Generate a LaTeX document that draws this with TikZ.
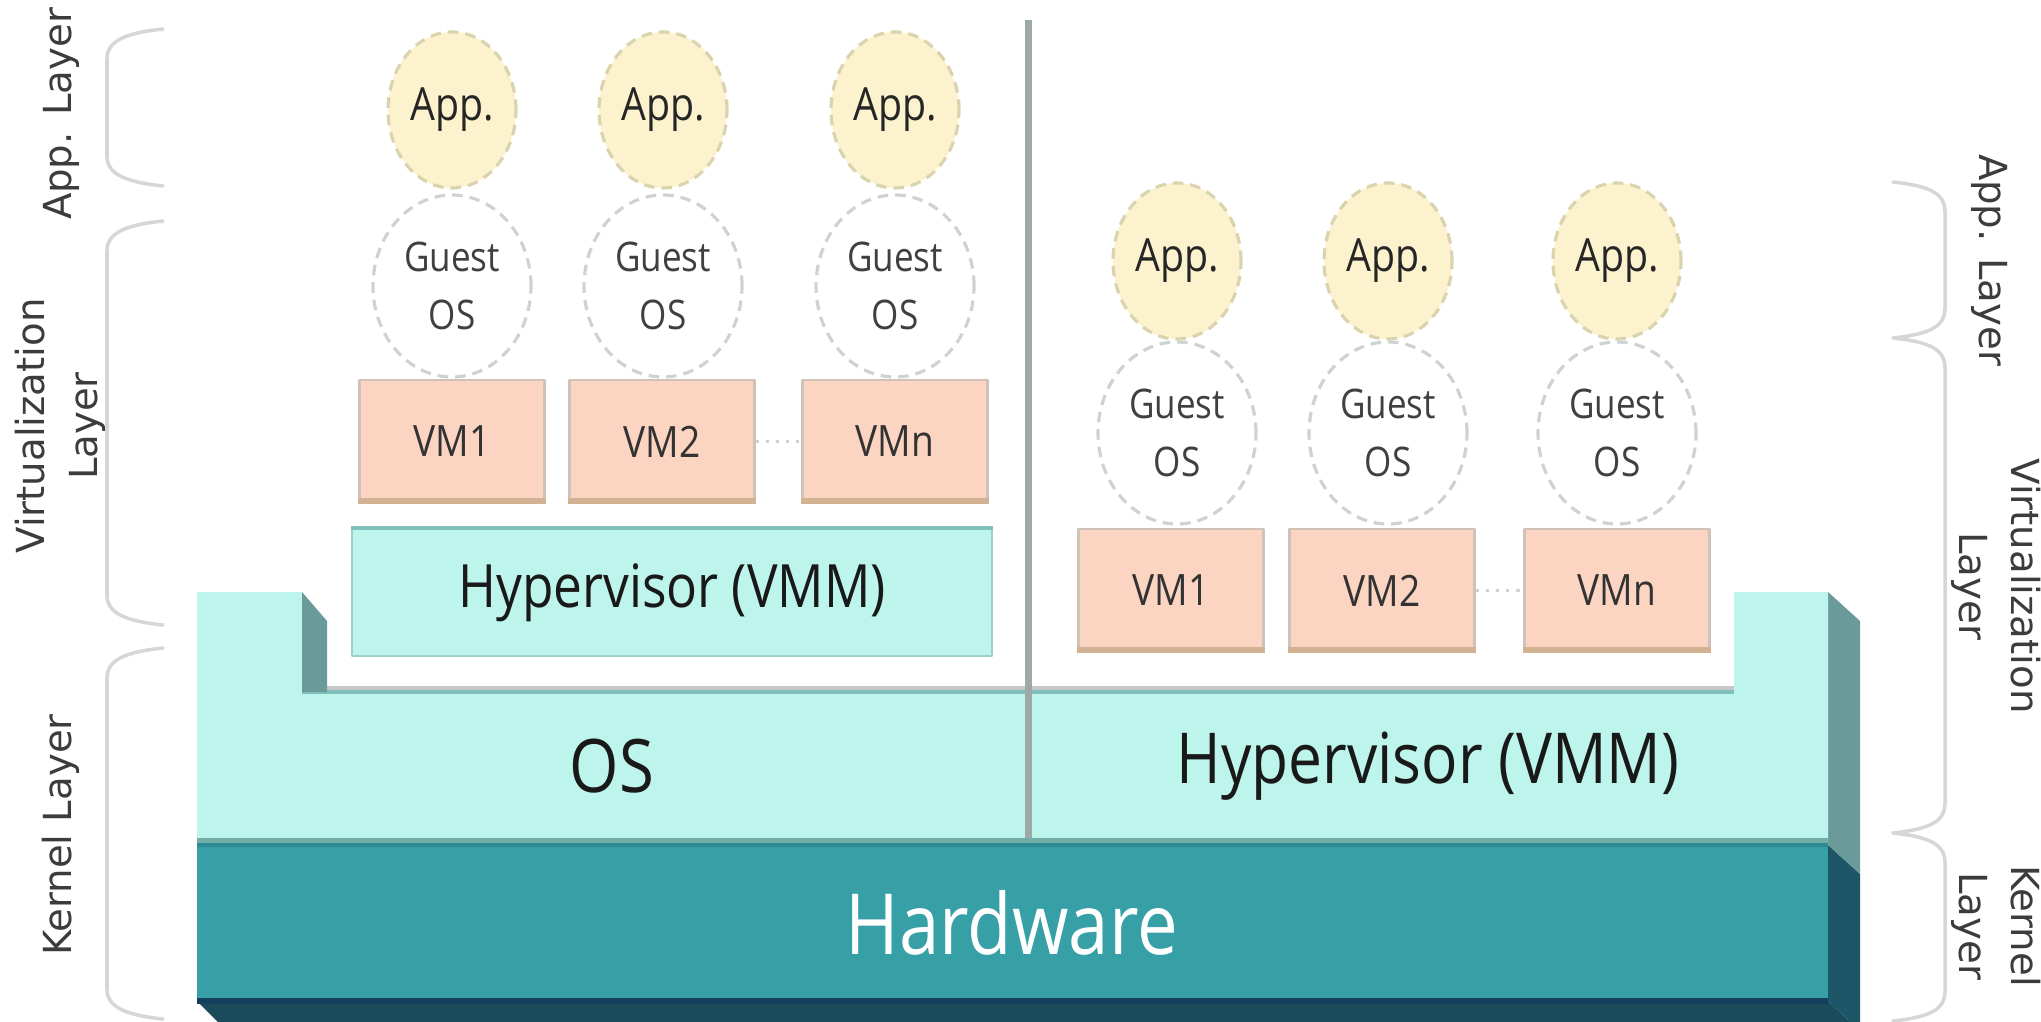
\documentclass[tikz,border=0pt]{standalone}
\usepackage{fontspec}
\setmainfont{Open Sans}[FakeStretch=0.86]
\newfontfamily\labelfont{DejaVu Sans}
\usetikzlibrary{shapes.geometric}
\definecolor{appfill}{HTML}{FCF2CD}
\definecolor{appline}{HTML}{D9D4AE}
\definecolor{osline}{HTML}{CDD3D3}
\definecolor{vmfill}{HTML}{FBD5C1}
\definecolor{vmline}{HTML}{CFC2B8}
\definecolor{vmfoot}{HTML}{D2B292}
\definecolor{hypfill}{HTML}{BDF5EC}
\definecolor{hypedge}{HTML}{7FC0BA}
\definecolor{prongside}{HTML}{6B9A9B}
\definecolor{hwfill}{HTML}{36A0A6}
\definecolor{hwline}{HTML}{2D8C93}
\definecolor{hwside}{HTML}{1D5666}
\definecolor{hwbottom}{HTML}{1A4B5A}
\definecolor{hwdark}{HTML}{143F5E}
\definecolor{divline}{HTML}{9DA8A8}
\definecolor{brkline}{HTML}{D6D6D6}
\definecolor{lbltext}{HTML}{3C3C3C}
\newcommand{\leftbrk}[2]{\draw[brk] (1.63,#1) .. controls (1.25,#1-0.04) and (1.07,#1-0.12) .. (1.07,#1-0.3) -- (1.07,#2+0.3) .. controls (1.07,#2+0.12) and (1.25,#2+0.04) .. (1.63,#2);}
\newcommand{\rightbrk}[2]{\draw[brk] (18.93,#1) .. controls (19.31,#1-0.04) and (19.45,#1-0.12) .. (19.45,#1-0.3) -- (19.45,#2+0.3) .. controls (19.45,#2+0.12) and (19.31,#2+0.04) .. (18.93,#2);}
\begin{document}
\begin{tikzpicture}[line join=round,
	app/.style={ellipse,draw=appline,fill=appfill,line width=0.9pt,densely dashed,minimum width=1.28cm,minimum height=1.56cm,inner sep=0pt,font=\fontsize{13}{15}\selectfont,text=black!85},
	guest/.style={ellipse,draw=osline,fill=white,line width=0.9pt,densely dashed,minimum width=1.58cm,minimum height=1.82cm,inner sep=0pt,align=center,font=\fontsize{11.6}{16.5}\selectfont,text=black!75},
	vm/.style={rectangle,draw=vmline,fill=vmfill,line width=0.6pt,minimum width=1.85cm,minimum height=1.23cm,inner sep=0pt,font=\fontsize{12.3}{14}\selectfont,text=black!80},
	hypbox/.style={rectangle,draw=hypfill!85!black,fill=hypfill,line width=0.4pt,minimum width=6.4cm,minimum height=1.27cm,inner sep=0pt,font=\fontsize{17}{20}\selectfont,text=black!90},
	brk/.style={brkline,line width=1pt,line cap=round},
	lbl/.style={align=center,text=lbltext,font=\labelfont\fontsize{11}{15}\selectfont}]
	\useasboundingbox (0,0) rectangle (20.41,10.21);
	\clip (0,0) rectangle (20.41,10.21);
	\fill[hwbottom] (1.97,0.2)--(18.28,0.2)--(18.6,-0.1)--(2.27,-0.1)--cycle;
	\fill[hwside] (18.28,1.76)--(18.6,1.47)--(18.6,-0.1)--(18.28,0.2)--cycle;
	\fill[hwfill] (1.97,0.2) rectangle (18.28,1.76);
	\draw[hwdark,line width=1.5pt] (1.97,0.2)--(18.28,0.2);
	\fill[prongside] (18.28,4.29)--(18.6,4)--(18.6,1.47)--(18.28,1.76)--cycle;
	\fill[hypfill] (1.97,4.29)--(3.02,4.29)--(3.02,3.29)--(17.34,3.29)--(17.34,4.29)--(18.28,4.29)--(18.28,1.76)--(1.97,1.76)--cycle;
	\fill[black!22] (3.02,3.29) rectangle (17.34,3.35);
	\draw[hypedge,line width=1.2pt] (3.02,3.29)--(17.34,3.29);
	\fill[prongside] (3.02,4.29)--(3.27,4)--(3.27,3.29)--(3.02,3.29)--cycle;
	\fill[hypedge!90!black] (1.97,1.76) rectangle (18.28,1.83);
	\draw[hwline,line width=1.2pt] (1.97,1.76)--(18.28,1.76);
	\draw[divline,line width=2pt] (10.28,10.01)--(10.28,1.83);
	\node[hypbox] (lhyp) at (6.72,4.285) {Hypervisor (VMM)};
	\draw[hypedge,line width=1.2pt] (lhyp.north west)--(lhyp.north east);
	\foreach \col/\xa/\xv/\vmtxt in {1/4.52/4.52/VM1,2/6.63/6.62/VM2,n/8.95/8.95/VMn}{
		\node[app] (la\col) at (\xa,9.11) {App.};
		\node[guest] (lg\col) at (\xa,7.35) {Guest\\OS};
		\node[vm] (lv\col) at (\xv,5.795) {\vmtxt};
		\fill[vmfoot] (lv\col.south west) rectangle ([yshift=0.06cm]lv\col.south east);
	}
	\foreach \col/\xa/\xv/\vmtxt in {1/11.77/11.71/VM1,2/13.88/13.82/VM2,n/16.17/16.17/VMn}{
		\node[app] (ra\col) at (\xa,7.6) {App.};
		\node[guest] (rg\col) at (\xa,5.88) {Guest\\OS};
		\node[vm] (rv\col) at (\xv,4.305) {\vmtxt};
		\fill[vmfoot] (rv\col.south west) rectangle ([yshift=0.06cm]rv\col.south east);
	}
	\draw[osline,dotted,line width=0.9pt] (lv2)--(lvn);
	\draw[osline,dotted,line width=0.9pt] (rv2)--(rvn);
	\node[font=\fontsize{21}{24}\selectfont,text=black!90] (ostxt) at (6.12,2.55) {OS};
	\node[font=\fontsize{20}{24}\selectfont,text=black!90] (rhyp) at (14.28,2.55) {Hypervisor (VMM)};
	\node[font=\fontsize{24}{28}\selectfont,text=white] (hwtxt) at (10.12,0.98) {Hardware};
	\leftbrk{9.92}{8.35}
	\leftbrk{8.0}{3.96}
	\leftbrk{3.73}{0.02}
	\rightbrk{8.39}{6.83}
	\rightbrk{6.83}{1.88}
	\rightbrk{1.88}{0.0}
	\node[lbl,rotate=90] (lapp) at (0.61,9.07) {App. Layer};
	\node[lbl,rotate=90] (lvirt) at (0.6,5.95) {Virtualization\\Layer};
	\node[lbl,rotate=90] (lkern) at (0.61,1.86) {Kernel Layer};
	\node[lbl,rotate=-90] (rapp) at (19.9,7.61) {App. Layer};
	\node[lbl,rotate=-90] (rvirt) at (19.96,4.35) {Virtualization\\Layer};
	\node[lbl,rotate=-90] (rkern) at (19.96,0.95) {Kernel\\Layer};
\end{tikzpicture}
\end{document}
